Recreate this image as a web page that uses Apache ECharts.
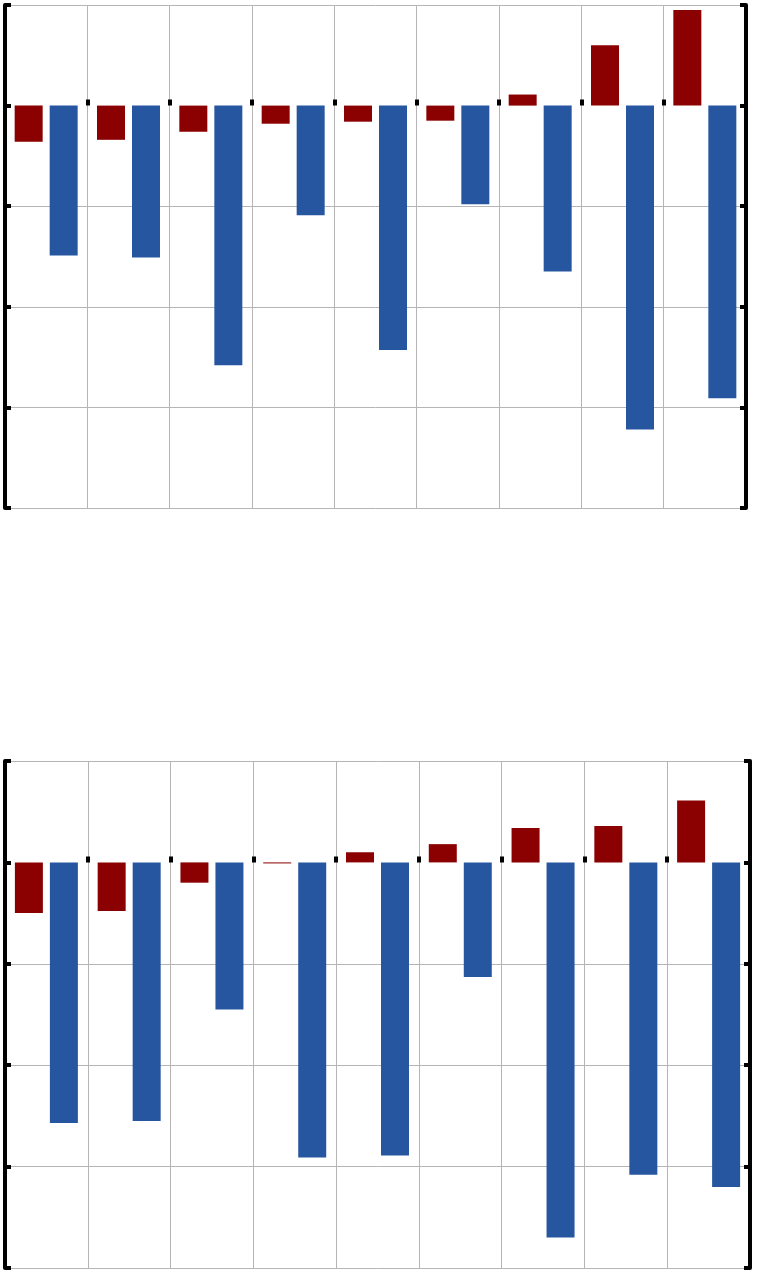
<!DOCTYPE html>
<html>
<head>
<meta charset="utf-8">
<script src="https://cdn.jsdelivr.net/npm/echarts@6/dist/echarts.min.js"></script>
<style>
html,body{margin:0;padding:0;background:#fff;}
#c{width:757px;height:1272px;}
</style>
</head>
<body>
<div id="c"></div>
<script>
// Data
var categories = ['1','2','3','4','5','6','7','8','9'];
var topRed  = [-0.36, -0.34, -0.26, -0.18, -0.16, -0.15, 0.11, 0.60, 0.95];
var topBlue = [-1.49, -1.51, -2.58, -1.09, -2.43, -0.98, -1.65, -3.22, -2.91];
var botRed  = [-0.50, -0.48, -0.20, -0.01, 0.10, 0.18, 0.34, 0.36, 0.61];
var botBlue = [-2.57, -2.55, -1.45, -2.91, -2.89, -1.13, -3.70, -3.08, -3.20];
var yMin = -4, yMax = 1, yStep = 1;

var RED = '#8b0000', BLUE = '#2656a0', GRID = '#b5b5b5';

function xAxis(gi){
  return {
    type:'category', gridIndex:gi, data:categories, position:'bottom',
    axisLine:{show:true, onZero:true, lineStyle:{color:'rgba(0,0,0,0)', width:1}},
    axisTick:{show:true, inside:true, length:6, lineStyle:{color:'#000', width:4}},
    axisLabel:{show:false},
    splitLine:{show:true, lineStyle:{color:GRID, width:1}}
  };
}
function yAxis(gi, pos){
  return {
    type:'value', gridIndex:gi, position:pos, min:yMin, max:yMax, interval:yStep,
    axisLine:{show:true, onZero:false, lineStyle:{color:'#000', width:4}},
    axisTick:{show:true, inside:true, length:6, lineStyle:{color:'#000', width:4}},
    axisLabel:{show:false},
    splitLine:{show: pos==='left', lineStyle:{color:[GRID,GRID,GRID,GRID,'rgba(0,0,0,0)',GRID], width:1}}
  };
}
function bars(gi, yi, data, color, z){
  return {type:'bar', xAxisIndex:gi, yAxisIndex:yi, data:data, barWidth:28, barGap:'25%',
    itemStyle:{color:color}, animation:false, silent:true};
}

var chart = echarts.init(document.getElementById('c'), null, {renderer:'canvas'});
chart.setOption({
  animation:false,
  backgroundColor:'#fff',
  grid:[
    {left:5, top:5, width:741, height:503},
    {left:5, top:761, width:745, height:507}
  ],
  xAxis:[xAxis(0), xAxis(1)],
  yAxis:[yAxis(0,'left'), yAxis(0,'right'), yAxis(1,'left'), yAxis(1,'right')],
  series:[
    bars(0,0,topRed,RED), bars(0,0,topBlue,BLUE),
    bars(1,2,botRed,RED), bars(1,2,botBlue,BLUE)
  ]
});
</script>
</body>
</html>
